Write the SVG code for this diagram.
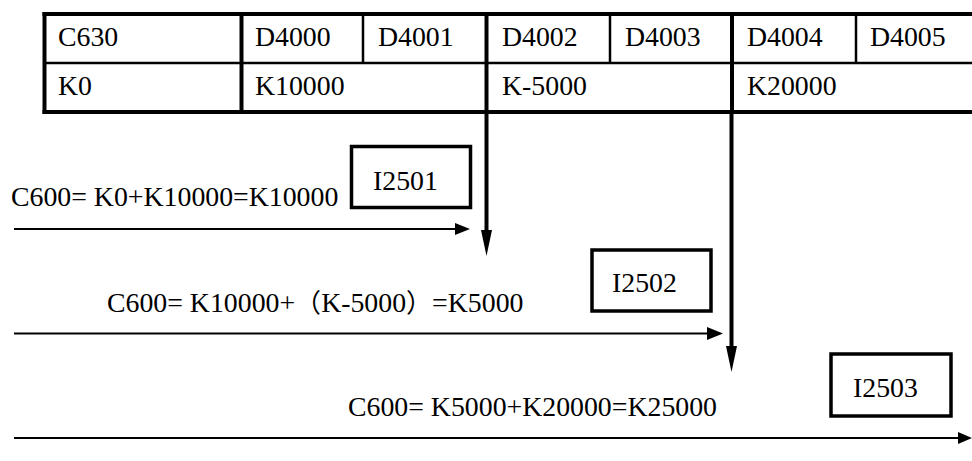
<svg xmlns="http://www.w3.org/2000/svg" width="972" height="461" viewBox="0 0 972 461">
<style>
  text { font-family: "Liberation Serif", "Times New Roman", serif; font-size: 27.8px; fill: #000; }
  .cjk { font-family: "Noto Sans CJK SC", sans-serif; font-size: 26px; }
  .thick { stroke: #000; stroke-width: 4; fill: none; }
  .thin { stroke: #000; stroke-width: 2.5; fill: none; }
  .box { stroke: #000; stroke-width: 3.5; fill: #fff; }
  .arr { stroke: #000; stroke-width: 2; fill: none; }
  .varr { stroke: #000; stroke-width: 4; fill: none; }
  .head { fill: #000; stroke: none; }
</style>
<rect width="972" height="461" fill="#fff"/>
<g id="table">
  <line class="thick" x1="42.5" y1="14" x2="972" y2="14"/>
  <line class="thin" x1="44.5" y1="63" x2="972" y2="63"/>
  <line class="thick" x1="42.5" y1="112" x2="972" y2="112"/>
  <line class="thick" x1="44.5" y1="12" x2="44.5" y2="114"/>
  <line class="thick" x1="241.5" y1="12" x2="241.5" y2="114"/>
  <line class="thick" x1="486.5" y1="12" x2="486.5" y2="114"/>
  <line class="thick" x1="732" y1="12" x2="732" y2="114"/>
  <line class="thin" x1="363" y1="14" x2="363" y2="63"/>
  <line class="thin" x1="610" y1="14" x2="610" y2="63"/>
  <line class="thin" x1="856" y1="14" x2="856" y2="63"/>
  <text x="58" y="46">C630</text>
  <text x="255" y="46">D4000</text>
  <text x="378" y="46">D4001</text>
  <text x="502" y="46">D4002</text>
  <text x="625" y="46">D4003</text>
  <text x="747" y="46">D4004</text>
  <text x="870" y="46">D4005</text>
  <text x="58" y="95">K0</text>
  <text x="255" y="95">K10000</text>
  <text x="502" y="95">K-5000</text>
  <text x="747" y="95">K20000</text>
</g>
<g id="connectors">
  <line class="varr" x1="486.5" y1="112" x2="486.5" y2="234"/>
  <polygon class="head" points="481,230 492,230 486.5,256"/>
  <line class="varr" x1="731.5" y1="112" x2="731.5" y2="350"/>
  <polygon class="head" points="726,346 737,346 731.5,372"/>
  <line class="arr" x1="14" y1="229" x2="458" y2="229"/>
  <polygon class="head" points="455,223 470,229 455,235"/>
  <line class="arr" x1="14" y1="333.5" x2="710" y2="333.5"/>
  <polygon class="head" points="707,327 723,333.5 707,340"/>
  <line class="arr" x1="14" y1="438" x2="962" y2="438"/>
  <polygon class="head" points="958,432 972,438 958,444"/>
</g>
<g id="label1">
  <text x="11" y="206">C600= K0+K10000=K10000</text>
</g>
<g id="label2">
  <text x="107" y="312">C600= K10000+<tspan class="cjk">（</tspan>K-5000<tspan class="cjk">）</tspan>=K5000</text>
</g>
<g id="label3">
  <text x="348" y="416">C600= K5000+K20000=K25000</text>
</g>
<g id="I2501">
  <rect class="box" x="351.5" y="146.5" width="119" height="61"/>
  <text x="373" y="190">I2501</text>
</g>
<g id="I2502">
  <rect class="box" x="592" y="250" width="119" height="61"/>
  <text x="612" y="292">I2502</text>
</g>
<g id="I2503">
  <rect class="box" x="831" y="354" width="120" height="62"/>
  <text x="853" y="397">I2503</text>
</g>
</svg>
